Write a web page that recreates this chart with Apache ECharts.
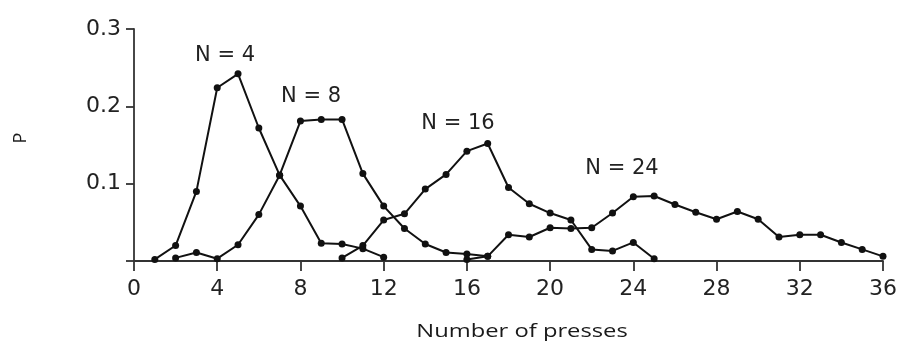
<!DOCTYPE html>
<html>
<head>
<meta charset="utf-8">
<script src="https://cdn.jsdelivr.net/npm/echarts@6/dist/echarts.min.js"></script>
<style>html,body{margin:0;padding:0;background:#fff}#c{width:904px;height:346px}</style>
</head>
<body>
<div id="c"></div>
<script>
// Data (x = number of presses, y = P)
const n4Presses  = [1,2,3,4,5,6,7,8,9,10,11,12];
const n4Values   = [0.002,0.02,0.09,0.224,0.242,0.172,0.111,0.071,0.023,0.022,0.016,0.005];
const n8Presses  = [2,3,4,5,6,7,8,9,10,11,12,13,14,15,16,17];
const n8Values   = [0.004,0.011,0.003,0.021,0.06,0.111,0.181,0.183,0.183,0.113,0.071,0.042,0.022,0.011,0.009,0.006];
const n16Presses = [10,11,12,13,14,15,16,17,18,19,20,21,22,23,24,25];
const n16Values  = [0.004,0.02,0.053,0.061,0.093,0.112,0.142,0.152,0.095,0.074,0.062,0.053,0.015,0.013,0.024,0.003];
const n24Presses = [16,17,18,19,20,21,22,23,24,25,26,27,28,29,30,31,32,33,34,35,36];
const n24Values  = [0.002,0.006,0.034,0.031,0.043,0.042,0.043,0.062,0.083,0.084,0.073,0.063,0.054,0.064,0.054,0.031,0.034,0.034,0.024,0.015,0.006];
const seriesNames = ['N = 4','N = 8','N = 16','N = 24'];
const xTicks = [0,4,8,12,16,20,24,28,32,36];
const yTicks = [0,0.1,0.2,0.3];
const xTitle = 'Number of presses';
const yTitle = 'P';

const pairs = (xs, ys) => xs.map((x, i) => [x, ys[i]]);
const allSeries = [
  [n4Presses, n4Values], [n8Presses, n8Values],
  [n16Presses, n16Values], [n24Presses, n24Values]
];

const chart = echarts.init(document.getElementById('c'), null, {renderer: 'canvas'});
const lineColor = '#111';
const axisColor = '#333';
const labelColor = '#222';

chart.setOption({
  animation: false,
  backgroundColor: '#fff',
  grid: {left: 134, right: 21, top: 29, bottom: 85, containLabel: false},
  xAxis: {
    type: 'value', min: xTicks[0], max: xTicks[xTicks.length - 1], interval: 4,
    axisLine: {show: true, lineStyle: {color: axisColor, width: 1.8}},
    axisTick: {show: true, length: 10, lineStyle: {color: axisColor, width: 1.8}},
    axisLabel: {margin: 17, color: labelColor, fontFamily: 'DejaVu Sans', fontSize: 22},
    splitLine: {show: false}
  },
  yAxis: {
    type: 'value', min: yTicks[0], max: yTicks[yTicks.length - 1], interval: 0.1,
    axisLine: {show: true, lineStyle: {color: axisColor, width: 1.8}},
    axisTick: {show: true, length: 8, lineStyle: {color: axisColor, width: 1.8}},
    axisLabel: {margin: 13, color: labelColor, fontFamily: 'DejaVu Sans', fontSize: 22,
      formatter: v => (v === 0 ? '' : v.toFixed(1))},
    splitLine: {show: false}
  },
  series: allSeries.map((s, i) => ({
    name: seriesNames[i],
    type: 'line',
    data: pairs(s[0], s[1]),
    symbol: 'circle', symbolSize: 7,
    lineStyle: {color: lineColor, width: 2},
    itemStyle: {color: lineColor},
    z: 3
  })),
  graphic: [
    {type: 'text', x: 225, y: 56, style: {text: seriesNames[0], x: 0, y: 0, align: 'center', verticalAlign: 'middle', font: '21px "DejaVu Sans"', fill: labelColor}},
    {type: 'text', x: 311, y: 97, style: {text: seriesNames[1], x: 0, y: 0, align: 'center', verticalAlign: 'middle', font: '21px "DejaVu Sans"', fill: labelColor}},
    {type: 'text', x: 458, y: 124, style: {text: seriesNames[2], x: 0, y: 0, align: 'center', verticalAlign: 'middle', font: '21px "DejaVu Sans"', fill: labelColor}},
    {type: 'text', x: 622, y: 169, style: {text: seriesNames[3], x: 0, y: 0, align: 'center', verticalAlign: 'middle', font: '21px "DejaVu Sans"', fill: labelColor}},
    {type: 'text', x: 522, y: 332, scaleX: 1.25, style: {text: xTitle, x: 0, y: 0, align: 'center', verticalAlign: 'middle', font: '19px "Open Sans"', fill: '#1a1a1a'}},
    {type: 'text', x: 21, y: 138, rotation: Math.PI / 2, style: {text: yTitle, x: 0, y: 0, align: 'center', verticalAlign: 'middle', font: '18px "Open Sans"', fill: '#1a1a1a'}}
  ]
});
</script>
</body>
</html>
